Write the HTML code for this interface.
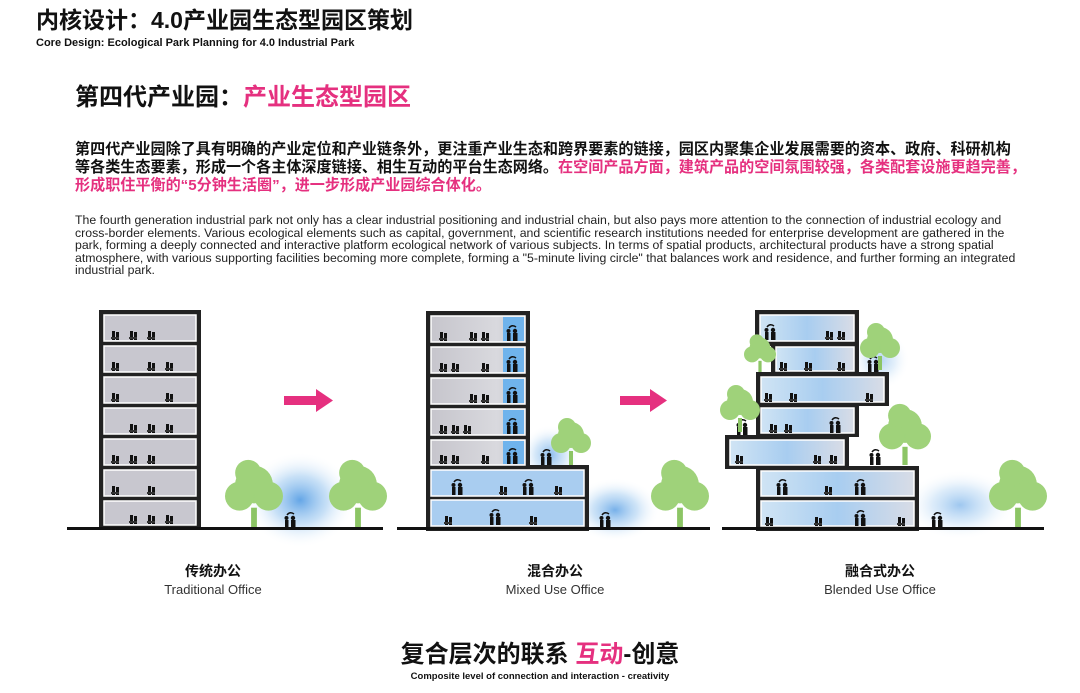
<!DOCTYPE html>
<html><head><meta charset="utf-8"><style>
body{margin:0;width:1080px;height:693px;background:#fff;overflow:hidden;position:relative;font-family:"Liberation Sans","Noto Sans CJK SC",sans-serif;color:#111}
.a{position:absolute;white-space:nowrap}
</style></head><body>
<div class="a" style="left:36px;top:8px;font-size:23px;line-height:24px;font-weight:bold;">内核设计：4.0产业园生态型园区策划</div>
<div class="a" style="left:36px;top:37px;font-size:11px;line-height:12px;font-weight:bold;">Core Design: Ecological Park Planning for 4.0 Industrial Park</div>
<div class="a" style="left:75px;top:84px;font-size:24px;line-height:28px;font-weight:bold;">第四代产业园：<span style="color:#e5307f">产业生态型园区</span></div>
<div class="a" style="left:75px;top:141px;font-size:15.1px;font-weight:bold;line-height:18px;">第四代产业园除了具有明确的产业定位和产业链条外，更注重产业生态和跨界要素的链接，园区内聚集企业发展需要的资本、政府、科研机构<br>等各类生态要素，形成一个各主体深度链接、相生互动的平台生态网络。<span style="color:#e5307f">在空间产品方面，建筑产品的空间氛围较强，各类配套设施更趋完善，<br>形成职住平衡的“5分钟生活圈”，进一步形成产业园综合体化。</span></div>
<div class="a" style="left:75px;top:214px;font-size:12.3px;line-height:12.6px;color:#222">The fourth generation industrial park not only has a clear industrial positioning and industrial chain, but also pays more attention to the connection of industrial ecology and<br>cross-border elements. Various ecological elements such as capital, government, and scientific research institutions needed for enterprise development are gathered in the<br>park, forming a deeply connected and interactive platform ecological network of various subjects. In terms of spatial products, architectural products have a strong spatial<br>atmosphere, with various supporting facilities becoming more complete, forming a "5-minute living circle" that balances work and residence, and further forming an integrated<br>industrial park.</div>

<svg class="a" style="left:0;top:0" width="1080" height="693">
<defs>
<radialGradient id="gl"><stop offset="0" stop-color="#3d8fe0"/><stop offset="0.5" stop-color="#9cc8f0" stop-opacity=".7"/><stop offset="1" stop-color="#fff" stop-opacity="0"/></radialGradient>
<linearGradient id="gr" x1="0" x2="1"><stop offset="0" stop-color="#c6c5cc"/><stop offset=".7" stop-color="#d9d9de"/><stop offset="1" stop-color="#c6c5cc"/></linearGradient>
<linearGradient id="bl" x1="0" x2="1"><stop offset="0" stop-color="#d0e4f4"/><stop offset=".5" stop-color="#a8cdf0"/><stop offset="1" stop-color="#d8dce6"/></linearGradient>
<g id="t"><circle cx="0" cy="-30" r="13" fill="#9fd27a"/><circle cx="-10" cy="-22" r="10" fill="#9fd27a"/><circle cx="10" cy="-22" r="10" fill="#9fd27a"/><circle cx="-4" cy="-38" r="9" fill="#9fd27a"/><rect x="-2" y="-14" width="4" height="14" fill="#8cc565"/></g>
<g id="p"><rect x="0" y="-9" width="3" height="9" fill="#111"/><rect x="4" y="-8" width="3" height="8" fill="#111"/><rect x="-1" y="-3" width="8" height="2" fill="#333"/></g>
<g id="h"><circle cx="1.5" cy="-10" r="2" fill="#111"/><rect x="0" y="-8" width="3.5" height="8" fill="#111"/><circle cx="8" cy="-10" r="2.2" fill="#111"/><rect x="6" y="-8" width="4.5" height="8" fill="#111"/><path d="M2,-13 Q5,-17 9,-14" stroke="#111" fill="none" stroke-width="1.5"/></g>
</defs>
<ellipse cx="300" cy="500" rx="55" ry="48" fill="url(#gl)" opacity=".8"/>
<ellipse cx="550" cy="455" rx="30" ry="30" fill="url(#gl)" opacity=".6"/>
<ellipse cx="615" cy="510" rx="45" ry="32" fill="url(#gl)" opacity=".7"/>
<ellipse cx="960" cy="505" rx="55" ry="35" fill="url(#gl)" opacity=".5"/>
<ellipse cx="880" cy="360" rx="30" ry="30" fill="url(#gl)" opacity=".4"/>
<rect x="99" y="310" width="102" height="219" fill="#222"/>
<g fill="#c8c7cf" stroke="#fff" stroke-width="1.5">
<rect x="104" y="315" width="92" height="26"/><rect x="104" y="346" width="92" height="26"/><rect x="104" y="377" width="92" height="26"/><rect x="104" y="408" width="92" height="26"/><rect x="104" y="439" width="92" height="26"/><rect x="104" y="470" width="92" height="26"/><rect x="104" y="501" width="92" height="24"/></g>
<use href="#p" x="112" y="340"/><use href="#p" x="130" y="340"/><use href="#p" x="148" y="340"/>
<use href="#p" x="112" y="371"/><use href="#p" x="148" y="371"/><use href="#p" x="166" y="371"/>
<use href="#p" x="112" y="402"/><use href="#p" x="166" y="402"/>
<use href="#p" x="130" y="433"/><use href="#p" x="148" y="433"/><use href="#p" x="166" y="433"/>
<use href="#p" x="112" y="464"/><use href="#p" x="130" y="464"/><use href="#p" x="148" y="464"/>
<use href="#p" x="112" y="495"/><use href="#p" x="148" y="495"/>
<use href="#p" x="130" y="524"/><use href="#p" x="148" y="524"/><use href="#p" x="166" y="524"/>
<g transform="translate(254,528) scale(1.45)"><use href="#t"/></g><g transform="translate(358,528) scale(1.45)"><use href="#t"/></g><use href="#h" x="285" y="528"/>
<rect x="67" y="527" width="316" height="3" fill="#111"/>
<path d="M284,396 h32 v-7 l17,11.5 l-17,11.5 v-7 h-32z" fill="#e5307f"/>
<rect x="426" y="311" width="104" height="220" fill="#222"/>
<rect x="426" y="465" width="163" height="66" fill="#222"/>
<g stroke="#fff" stroke-width="1.5">
<rect x="431" y="316" width="94" height="26" fill="url(#gr)"/><rect x="431" y="347" width="94" height="26" fill="url(#gr)"/><rect x="431" y="378" width="94" height="26" fill="url(#gr)"/><rect x="431" y="409" width="94" height="26" fill="url(#gr)"/><rect x="431" y="440" width="94" height="25" fill="url(#gr)"/>
<rect x="431" y="470" width="153" height="26" fill="#a9cdf0"/><rect x="431" y="500" width="153" height="26" fill="#a9cdf0"/></g>
<g fill="#6fb3ec"><rect x="503" y="317" width="21" height="24"/><rect x="503" y="348" width="21" height="24"/><rect x="503" y="379" width="21" height="24"/><rect x="503" y="410" width="21" height="24"/><rect x="503" y="441" width="21" height="23"/></g>
<g><use href="#p" x="440" y="341"/><use href="#p" x="470" y="341"/><use href="#p" x="482" y="341"/><use href="#p" x="440" y="372"/><use href="#p" x="452" y="372"/><use href="#p" x="482" y="372"/><use href="#p" x="470" y="403"/><use href="#p" x="482" y="403"/><use href="#p" x="440" y="434"/><use href="#p" x="452" y="434"/><use href="#p" x="464" y="434"/><use href="#p" x="440" y="464"/><use href="#p" x="452" y="464"/><use href="#p" x="482" y="464"/>
<use href="#h" x="507" y="341"/><use href="#h" x="507" y="372"/><use href="#h" x="507" y="403"/><use href="#h" x="507" y="434"/><use href="#h" x="507" y="464"/>
<use href="#h" x="452" y="495"/><use href="#h" x="523" y="495"/><use href="#p" x="500" y="495"/><use href="#p" x="555" y="495"/>
<use href="#p" x="445" y="525"/><use href="#h" x="490" y="525"/><use href="#p" x="530" y="525"/><use href="#h" x="600" y="528"/><use href="#h" x="541" y="465"/></g>
<use href="#t" x="571" y="465"/><g transform="translate(680,528) scale(1.45)"><use href="#t"/></g>
<rect x="397" y="527" width="313" height="3" fill="#111"/>
<path d="M620,396 h30 v-7 l17,11.5 l-17,11.5 v-7 h-30z" fill="#e5307f"/>
<g fill="#222">
<rect x="755" y="310" width="104" height="36"/><rect x="771" y="344" width="88" height="30"/><rect x="756" y="372" width="133" height="34"/><rect x="756" y="404" width="103" height="33"/><rect x="725" y="435" width="124" height="34"/><rect x="756" y="466" width="163" height="65"/></g>
<g stroke="#fff" stroke-width="1.5" fill="url(#bl)">
<rect x="760" y="315" width="94" height="26"/><rect x="776" y="347" width="78" height="24"/><rect x="761" y="377" width="123" height="25"/><rect x="761" y="408" width="93" height="25"/><rect x="730" y="440" width="114" height="25"/><rect x="761" y="471" width="153" height="25"/><rect x="761" y="501" width="153" height="25"/></g>
<use href="#h" x="765" y="340"/><use href="#p" x="826" y="340"/><use href="#p" x="838" y="340"/><use href="#p" x="780" y="371"/><use href="#p" x="805" y="371"/><use href="#p" x="838" y="371"/><use href="#p" x="765" y="402"/><use href="#p" x="790" y="402"/><use href="#p" x="866" y="402"/><use href="#p" x="770" y="433"/><use href="#p" x="785" y="433"/><use href="#h" x="830" y="433"/><use href="#p" x="736" y="464"/><use href="#p" x="814" y="464"/><use href="#p" x="830" y="464"/><use href="#h" x="777" y="495"/><use href="#p" x="825" y="495"/><use href="#h" x="855" y="495"/><use href="#p" x="766" y="526"/><use href="#p" x="815" y="526"/><use href="#h" x="855" y="526"/><use href="#p" x="898" y="526"/>
<use href="#h" x="868" y="372"/><use href="#h" x="737" y="435"/><use href="#h" x="870" y="465"/><use href="#h" x="932" y="528"/>
<g transform="translate(760,372) scale(.8)"><use href="#t"/></g><use href="#t" x="880" y="370"/><use href="#t" x="740" y="432"/><g transform="translate(905,465) scale(1.3)"><use href="#t"/></g><g transform="translate(1018,528) scale(1.45)"><use href="#t"/></g>
<rect x="722" y="527" width="322" height="3" fill="#111"/>
</svg>
<div class="a" style="left:163px;top:561px;width:100px;text-align:center;font-size:14px;font-weight:bold">传统办公</div>
<div class="a" style="left:143px;top:582px;width:140px;text-align:center;font-size:13px;color:#333">Traditional Office</div>
<div class="a" style="left:505px;top:561px;width:100px;text-align:center;font-size:14px;font-weight:bold">混合办公</div>
<div class="a" style="left:485px;top:582px;width:140px;text-align:center;font-size:13px;color:#333">Mixed Use Office</div>
<div class="a" style="left:830px;top:561px;width:100px;text-align:center;font-size:14px;font-weight:bold">融合式办公</div>
<div class="a" style="left:810px;top:582px;width:140px;text-align:center;font-size:13px;color:#333">Blended Use Office</div>
<div class="a" style="left:340px;top:642px;width:400px;text-align:center;font-size:24px;line-height:26px;font-weight:bold">复合层次的联系 <span style="color:#e5307f">互动</span>-创意</div>
<div class="a" style="left:340px;top:671px;width:400px;text-align:center;font-size:9.5px;line-height:11px;font-weight:bold">Composite level of connection and interaction - creativity</div>
</body></html>
